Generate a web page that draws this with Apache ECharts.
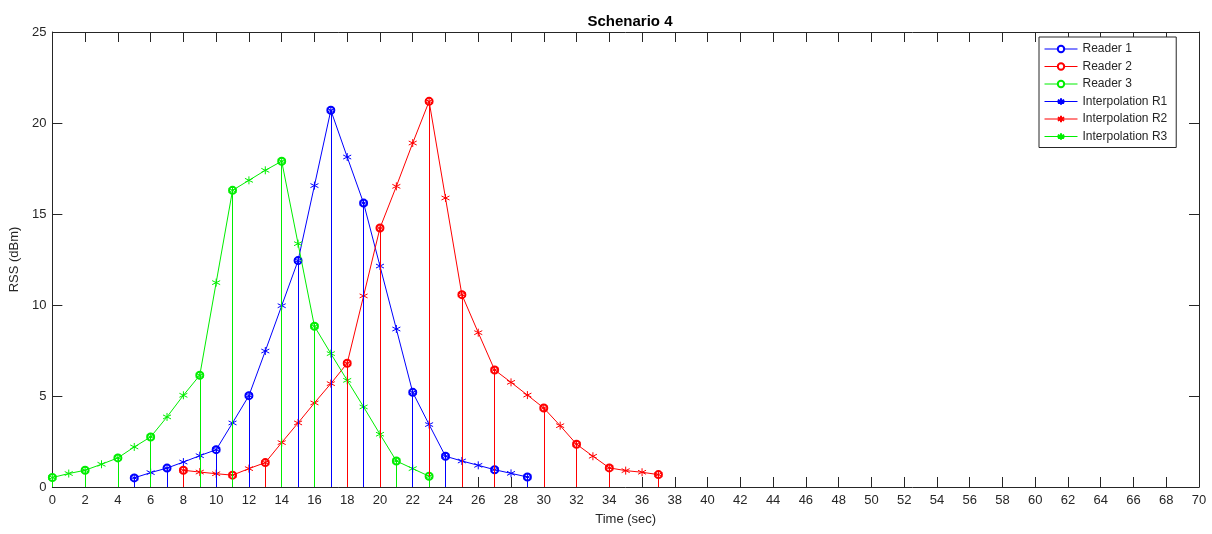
<!DOCTYPE html>
<html>
<head>
<meta charset="utf-8">
<title>Schenario 4</title>
<script src="https://cdn.jsdelivr.net/npm/echarts@6/dist/echarts.min.js"></script>
<style>
  html, body { margin: 0; padding: 0; background: #fff; }
  #chart { width: 1212px; height: 534px; }
</style>
</head>
<body>
<div id="chart"></div>
<script>
// interpolation curves (one value per second)
const timeR1 = [5, 6, 7, 8, 9, 10, 11, 12, 13, 14, 15, 16, 17, 18, 19, 20, 21, 22, 23, 24, 25, 26, 27, 28, 29]
const interpR1 = [0.5, 0.79, 1.04, 1.37, 1.72, 2.05, 3.52, 5.02, 7.47, 9.96, 12.44, 16.56, 20.7, 18.13, 15.6, 12.14, 8.68, 5.2, 3.43, 1.69, 1.43, 1.19, 0.95, 0.75, 0.55]

const timeR2 = [8, 9, 10, 11, 12, 13, 14, 15, 16, 17, 18, 19, 20, 21, 22, 23, 24, 25, 26, 27, 28, 29, 30, 31, 32, 33, 34, 35, 36, 37]
const interpR2 = [0.92, 0.82, 0.73, 0.65, 1.01, 1.34, 2.44, 3.52, 4.62, 5.68, 6.8, 10.5, 14.23, 16.52, 18.9, 21.19, 15.88, 10.57, 8.48, 6.43, 5.75, 5.05, 4.34, 3.37, 2.35, 1.69, 1.05, 0.9, 0.81, 0.68]

const timeR3 = [0, 1, 2, 3, 4, 5, 6, 7, 8, 9, 10, 11, 12, 13, 14, 15, 16, 17, 18, 19, 20, 21, 22, 23]
const interpR3 = [0.52, 0.74, 0.92, 1.25, 1.6, 2.2, 2.75, 3.85, 5.04, 6.14, 11.23, 16.3, 16.85, 17.4, 17.9, 13.37, 8.83, 7.33, 5.86, 4.4, 2.9, 1.43, 1.01, 0.59]

// measured samples (stems)
const reader1Time = [5, 7, 10, 12, 15, 17, 19, 22, 24, 27, 29]
const reader1 = [0.5, 1.04, 2.05, 5.02, 12.44, 20.7, 15.6, 5.2, 1.69, 0.95, 0.55]

const reader2Time = [8, 11, 13, 18, 20, 23, 25, 27, 30, 32, 34, 37]
const reader2 = [0.92, 0.65, 1.34, 6.8, 14.23, 21.19, 10.57, 6.43, 4.34, 2.35, 1.05, 0.68]

const reader3Time = [0, 2, 4, 6, 9, 11, 14, 16, 21, 23]
const reader3 = [0.52, 0.92, 1.6, 2.75, 6.14, 16.3, 17.9, 8.83, 1.43, 0.59]

const xTicks = { min: 0, max: 70, step: 2 }
const yTicks = { min: 0, max: 25, step: 5 }

const BLUE = '#0000ff'
const RED = '#ff0000'
const GREEN = '#00ee00'
const AXIS = '#262626'
const FONT = '"Liberation Sans", Arial, sans-serif'

// matlab style '*' marker
const STAR = 'path://M0,-5L0,5M-4.33,-2.5L4.33,2.5M-4.33,2.5L4.33,-2.5'

const pairs = (xs, ys) => xs.map((x, i) => [x, ys[i]])

const readerSeries = (name, xs, ys, color) => ({
  name,
  type: 'line',
  data: pairs(xs, ys),
  symbol: 'emptyCircle',
  symbolSize: 7,
  lineStyle: { opacity: 0 },
  itemStyle: { color, borderColor: color, borderWidth: 1 },
  z: 2,
  // stems from the axis up to each sample
  markLine: {
    silent: true,
    symbol: ['none', 'none'],
    label: { show: false },
    lineStyle: { color, width: 1, type: 'solid', opacity: 1 },
    data: xs.map((x, i) => [{ coord: [x, 0] }, { coord: [x, ys[i]] }]),
  },
})

const interpSeries = (name, xs, ys, color) => ({
  name,
  type: 'line',
  data: pairs(xs, ys),
  symbol: STAR,
  symbolSize: 8,
  lineStyle: { color, width: 1 },
  itemStyle: { color: 'rgba(0,0,0,0)', borderColor: color, borderWidth: 1 },
  z: 3,
})

const sideAxis = {
  axisLine: { show: true, onZero: false, lineStyle: { color: AXIS, width: 1 } },
  axisTick: { show: true, inside: true, length: 10, lineStyle: { color: AXIS } },
  splitLine: { show: false },
}

const legendLine = (color) => ({ color, width: 1, opacity: 1 })

const chart = echarts.init(document.getElementById('chart'))

chart.setOption({
  animation: false,
  backgroundColor: '#fff',
  title: {
    text: 'Schenario 4',
    left: 625,
    top: 9,
    textAlign: 'center',
    textStyle: { fontFamily: FONT, fontSize: 15, fontWeight: 'bold', color: '#000' },
  },
  grid: { left: 52, right: 13, top: 32, bottom: 47 },
  legend: {
    orient: 'vertical',
    left: 1039,
    top: 37,
    width: 138,
    padding: [5, 9, 4, 5],
    itemGap: 3.5,
    itemWidth: 33,
    itemHeight: 8,
    borderColor: AXIS,
    borderWidth: 1,
    backgroundColor: '#fff',
    selectedMode: false,
    textStyle: { fontFamily: FONT, fontSize: 12, color: AXIS, lineHeight: 14 },
    data: [
      { name: 'Reader 1', lineStyle: legendLine(BLUE) },
      { name: 'Reader 2', lineStyle: legendLine(RED) },
      { name: 'Reader 3', lineStyle: legendLine(GREEN) },
      { name: 'Interpolation R1', lineStyle: legendLine(BLUE) },
      { name: 'Interpolation R2', lineStyle: legendLine(RED) },
      { name: 'Interpolation R3', lineStyle: legendLine(GREEN) },
    ],
  },
  xAxis: [
    {
      type: 'value',
      position: 'bottom',
      min: xTicks.min,
      max: xTicks.max,
      interval: xTicks.step,
      name: 'Time (sec)',
      nameLocation: 'middle',
      nameGap: 26,
      nameTextStyle: { fontFamily: FONT, fontSize: 13, color: AXIS },
      axisLabel: { fontFamily: FONT, fontSize: 13, color: AXIS, margin: 7 },
      ...sideAxis,
    },
    {
      type: 'value',
      position: 'top',
      min: xTicks.min,
      max: xTicks.max,
      interval: xTicks.step,
      axisLabel: { show: false },
      ...sideAxis,
    },
  ],
  yAxis: [
    {
      type: 'value',
      position: 'left',
      min: yTicks.min,
      max: yTicks.max,
      interval: yTicks.step,
      name: 'RSS (dBm)',
      nameLocation: 'middle',
      nameGap: 25,
      nameTextStyle: { fontFamily: FONT, fontSize: 13, color: AXIS },
      axisLabel: { fontFamily: FONT, fontSize: 13, color: AXIS, margin: 6 },
      ...sideAxis,
    },
    {
      type: 'value',
      position: 'right',
      min: yTicks.min,
      max: yTicks.max,
      interval: yTicks.step,
      axisLabel: { show: false },
      ...sideAxis,
    },
  ],
  series: [
    readerSeries('Reader 1', reader1Time, reader1, BLUE),
    readerSeries('Reader 2', reader2Time, reader2, RED),
    readerSeries('Reader 3', reader3Time, reader3, GREEN),
    interpSeries('Interpolation R1', timeR1, interpR1, BLUE),
    interpSeries('Interpolation R2', timeR2, interpR2, RED),
    interpSeries('Interpolation R3', timeR3, interpR3, GREEN),
  ],
})
</script>
</body>
</html>
